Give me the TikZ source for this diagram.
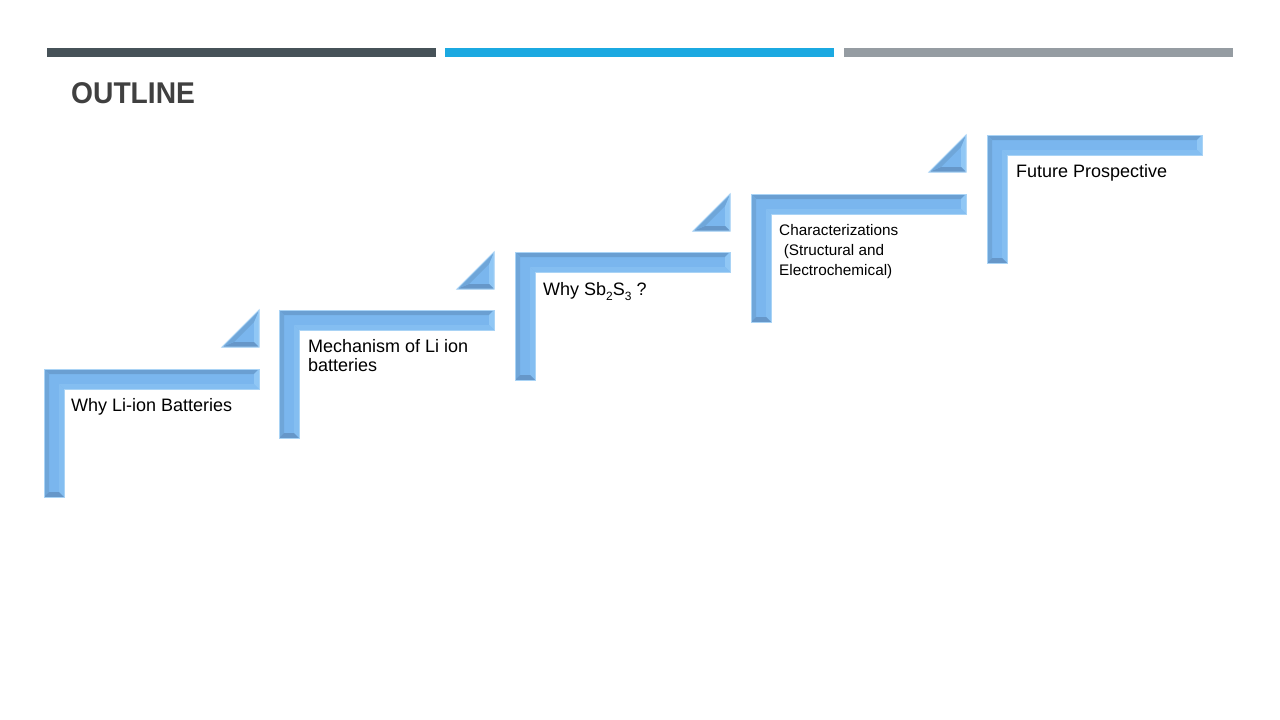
\documentclass[tikz,border=0pt]{standalone}
\usepackage{fontspec}
\setmainfont{Liberation Sans}
\definecolor{barA}{HTML}{465258}
\definecolor{barB}{HTML}{1BA9E1}
\definecolor{barC}{HTML}{959CA2}
\definecolor{titlec}{HTML}{404040}
\definecolor{face}{HTML}{7AB6EE}
\definecolor{topf}{HTML}{6A9FD2}
\definecolor{leftf}{HTML}{6FA6D9}
\definecolor{lightf}{HTML}{90C7F5}
\definecolor{botf}{HTML}{6697C9}
\definecolor{edge}{HTML}{A9D3F5}
\tikzset{
  bar/.style={inner sep=0pt, minimum height=9pt, minimum width=389pt, anchor=north west},
  lbl/.style={anchor=base west, inner sep=0pt, font=\fontsize{18}{19}\selectfont, text=black},
  slbl/.style={anchor=base west, inner sep=0pt, font=\fontsize{15.3}{20}\selectfont, text=black},
}
% L-shaped bevelled step: #1 = left, #2 = top, right = left+215, bottom = top+128
\newcommand\drawstepL[2]{%
  \pgfmathsetmacro\sL{#1}\pgfmathsetmacro\sT{#2}%
  \pgfmathsetmacro\sR{#1+215}\pgfmathsetmacro\sB{#2+128}%
  \pgfmathsetmacro\sLa{#1+20}\pgfmathsetmacro\sTa{#2+20}%
  \pgfmathsetmacro\iL{#1+5}\pgfmathsetmacro\iT{#2+5}%
  \pgfmathsetmacro\iR{#1+210}\pgfmathsetmacro\iB{#2+123}%
  \pgfmathsetmacro\iLa{#1+15}\pgfmathsetmacro\iTa{#2+15}%
  \fill[face] (\sL,\sT) -- (\sR,\sT) -- (\sR,\sTa) -- (\sLa,\sTa) -- (\sLa,\sB) -- (\sL,\sB) -- cycle;
  \fill[topf] (\sL,\sT) -- (\sR,\sT) -- (\iR,\iT) -- (\iL,\iT) -- cycle;
  \fill[leftf] (\sL,\sT) -- (\iL,\iT) -- (\iL,\iB) -- (\sL,\sB) -- cycle;
  \fill[lightf] (\sR,\sT) -- (\sR,\sTa) -- (\iR,\iTa) -- (\iR,\iT) -- cycle;
  \fill[lightf!45!face] (\sR,\sTa) -- (\sLa,\sTa) -- (\iLa,\iTa) -- (\iR,\iTa) -- cycle;
  \fill[lightf!45!face] (\sLa,\sTa) -- (\sLa,\sB) -- (\iLa,\iB) -- (\iLa,\iTa) -- cycle;
  \fill[botf] (\sL,\sB) -- (\sLa,\sB) -- (\iLa,\iB) -- (\iL,\iB) -- cycle;
  \draw[edge, line width=1pt] (\sL,\sT) -- (\sR,\sT) -- (\sR,\sTa) -- (\sLa,\sTa) -- (\sLa,\sB) -- (\sL,\sB) -- cycle;
}
% bevelled triangle: #1 = right edge x, #2 = top y, size 37
\newcommand\drawtri[2]{%
  \pgfmathsetmacro\tR{#1}\pgfmathsetmacro\tT{#2}%
  \pgfmathsetmacro\tB{#2+37}\pgfmathsetmacro\tL{#1-37}%
  \pgfmathsetmacro\uR{#1-5}\pgfmathsetmacro\uT{#2+12}%
  \pgfmathsetmacro\uB{#2+32}\pgfmathsetmacro\uL{#1-25}%
  \fill[face] (\tR,\tT) -- (\tR,\tB) -- (\tL,\tB) -- cycle;
  \fill[lightf] (\tR,\tT) -- (\tR,\tB) -- (\uR,\uB) -- (\uR,\uT) -- cycle;
  \fill[botf] (\tR,\tB) -- (\tL,\tB) -- (\uL,\uB) -- (\uR,\uB) -- cycle;
  \fill[leftf] (\tL,\tB) -- (\tR,\tT) -- (\uR,\uT) -- (\uL,\uB) -- cycle;
  \draw[edge, line width=1pt] (\tR,\tT) -- (\tR,\tB) -- (\tL,\tB) -- cycle;
}
\begin{document}
\begin{tikzpicture}[x=1pt,y=-1pt]
\useasboundingbox (0,0) rectangle (1280,720);
\fill[white] (0,0) rectangle (1280,720);
% top bars
\node[bar, fill=barA] (bar1) at (47,48) {};
\node[bar, fill=barB] (bar2) at (445,48) {};
\node[bar, fill=barC] (bar3) at (844,48) {};
% title
\node[anchor=base west, inner sep=0pt, text=titlec, font=\bfseries\fontsize{30}{30}\selectfont] (title) at (71,103) {\scalebox{0.94}[1]{OUTLINE}};
% steps
\drawstepL{44}{369}
\drawstepL{279}{310}
\drawstepL{515}{252}
\drawstepL{751}{194}
\drawstepL{987}{135}
% triangles
\drawtri{259}{310}
\drawtri{494}{252}
\drawtri{730}{194}
\drawtri{966}{135}
% labels
\node[lbl] (t1) at (71,411) {Why Li-ion Batteries};
\node[lbl] (t2a) at (308,352) {Mechanism of Li ion};
\node[lbl] (t2b) at (308,371) {batteries};
\node[lbl] (t3) at (543,295) {Why Sb\raisebox{-0.3em}{\fontsize{12}{12}\selectfont 2}S\raisebox{-0.3em}{\fontsize{12}{12}\selectfont 3} ?};
\node[slbl] (t4a) at (779,235) {Characterizations};
\node[slbl] (t4b) at (779,255) {\hspace*{0.3em}(Structural and};
\node[slbl] (t4c) at (779,275) {Electrochemical)};
\node[lbl] (t5) at (1016,177) {Future Prospective};
\end{tikzpicture}
\end{document}
